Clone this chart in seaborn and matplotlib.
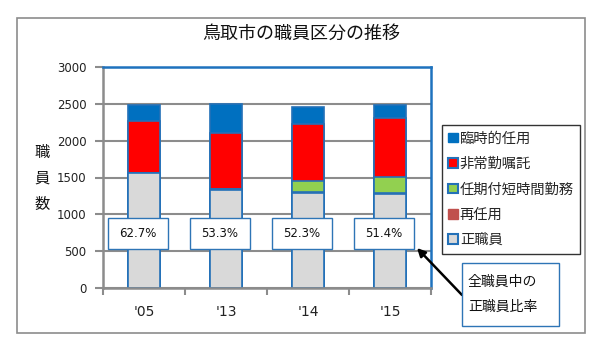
import numpy as np
import pandas as pd
import matplotlib
matplotlib.use("Agg")
import matplotlib.pyplot as plt
import seaborn as sns
from matplotlib.patches import Patch, Rectangle

# データ
years = ["'05", "'13", "'14", "'15"]
seishokuin = [1560, 1327, 1292, 1280]     # 正職員
saininyo = [0, 20, 15, 15]                # 再任用
ninkitsuki = [0, 0, 140, 210]             # 任期付短時間勤務
hijokin = [710, 751, 778, 800]            # 非常勤嘱託
rinji = [220, 397, 235, 185]              # 臨時的任用
ratio_labels = ["62.7%", "53.3%", "52.3%", "51.4%"]

series_names = ["正職員", "再任用", "任期付短時間勤務", "非常勤嘱託", "臨時的任用"]
series_vals = [seishokuin, saininyo, ninkitsuki, hijokin, rinji]
series_colors = ["#D9D9D9", "#C0504D", "#92D050", "#FF0000", "#0070C0"]
edge_blue = "#2471B8"

df = pd.DataFrame({"year": years})
cum = np.zeros(len(years))
for name, vals in zip(series_names, series_vals):
    cum = cum + np.array(vals)
    df[name] = cum

sns.set_theme(style="white")
plt.rcParams["font.family"] = ["Noto Sans CJK JP", "DejaVu Sans"]

fig = plt.figure(figsize=(5.94, 3.51), dpi=100)
ax = fig.add_axes([103 / 594, 1 - 288 / 351, (431 - 103) / 594, (288 - 67) / 351])

# 積み上げ：累計の大きい順に重ねて描画
for name, color in reversed(list(zip(series_names, series_colors))):
    sns.barplot(data=df, x="year", y=name, color=color, saturation=1,
                width=0.4, edgecolor=edge_blue, linewidth=1.2,
                errorbar=None, ax=ax)

ax.set_xlim(-0.5, len(years) - 0.5)
ax.set_ylim(0, 3000)
ax.set_yticks(np.arange(0, 3001, 500))
ax.set_xlabel("")
ax.set_ylabel("")
ax.yaxis.grid(True, color="#8C8C8C", linewidth=1.5)
ax.set_axisbelow(True)

for s in ["left", "bottom"]:
    ax.spines[s].set_color("#8C8C8C")
    ax.spines[s].set_linewidth(1.8)
for s in ["top", "right"]:
    ax.spines[s].set_color("#1E72BE")
    ax.spines[s].set_linewidth(1.8)

ax.set_xticks(range(len(years)))
ax.set_xticklabels(years, fontsize=10, family="DejaVu Sans")
ax.set_xticks(np.arange(-0.5, len(years), 1.0), minor=True)
ax.tick_params(axis="x", which="major", length=0, pad=12, colors="#222222")
ax.tick_params(axis="x", which="minor", length=5, width=1.5, color="#8C8C8C",
               direction="out", bottom=True)
ax.tick_params(axis="y", length=6, width=1.5, color="#8C8C8C", direction="out",
               left=True, labelsize=8.5, pad=6, labelcolor="#222222")
for lab in ax.get_yticklabels():
    lab.set_family("DejaVu Sans")

# 正職員比率ラベル
for i, txt in enumerate(ratio_labels):
    ax.add_patch(Rectangle((i - 0.44, 527), 0.73, 420, facecolor="white",
                           edgecolor="#2E75B6", linewidth=1.0, zorder=5))
    ax.text(i - 0.08, 740, txt, ha="center", va="center", fontsize=8.5,
            family="DejaVu Sans", color="#111111", zorder=6)

# タイトル・軸ラベル
fig.text(301 / 594, 1 - 34 / 351, "鳥取市の職員区分の推移", ha="center", va="center",
         fontsize=13, color="#111111")
for k, ch in enumerate("職員数"):
    fig.text(42.5 / 594, 1 - (153 + 25.5 * k) / 351, ch, ha="center", va="center",
             fontsize=11, color="#111111")

# 外枠
fig.patches.append(Rectangle((17 / 594, 1 - 333 / 351), (585 - 17) / 594,
                             (333 - 18) / 351, transform=fig.transFigure,
                             facecolor="none", edgecolor="#8C8C8C", linewidth=1.2))

# 凡例
handles = [
    Patch(facecolor="#0070C0", edgecolor="#0070C0"),
    Patch(facecolor="#FF0000", edgecolor=edge_blue, linewidth=1.5),
    Patch(facecolor="#92D050", edgecolor=edge_blue, linewidth=1.5),
    Patch(facecolor="#C0504D", edgecolor="#C0504D"),
    Patch(facecolor="#D9D9D9", edgecolor=edge_blue, linewidth=1.5),
]
leg_labels = ["臨時的任用", "非常勤嘱託", "任期付短時間勤務", "再任用", "正職員"]
leg = fig.legend(handles, leg_labels, loc="upper left",
                 bbox_to_anchor=(442 / 594, 1 - 125 / 351), fontsize=10.3,
                 frameon=True, fancybox=False, handlelength=0.65, handleheight=0.65,
                 handletextpad=0.15, labelspacing=0.8, borderpad=0.45,
                 borderaxespad=0)
leg.get_frame().set_edgecolor("black")
leg.get_frame().set_linewidth(1.0)

# 注記ボックスと矢印
fig.patches.append(Rectangle((462 / 594, 1 - 326 / 351), (559 - 462) / 594,
                             (326 - 263) / 351, transform=fig.transFigure,
                             facecolor="white", edgecolor="#2E75B6", linewidth=1.0))
fig.text(468 / 594, 1 - 282 / 351, "全職員中の", ha="left", va="center",
         fontsize=10, color="#111111")
fig.text(468 / 594, 1 - 307 / 351, "正職員比率", ha="left", va="center",
         fontsize=10, color="#111111")
ax.annotate("", xy=(417, 351 - 248), xycoords="figure pixels",
            xytext=(462, 351 - 295), textcoords="figure pixels",
            arrowprops=dict(arrowstyle="-|>", color="black", lw=1.8,
                            mutation_scale=12, shrinkA=0, shrinkB=0),
            annotation_clip=False)

fig.savefig("out.png", dpi=100)
